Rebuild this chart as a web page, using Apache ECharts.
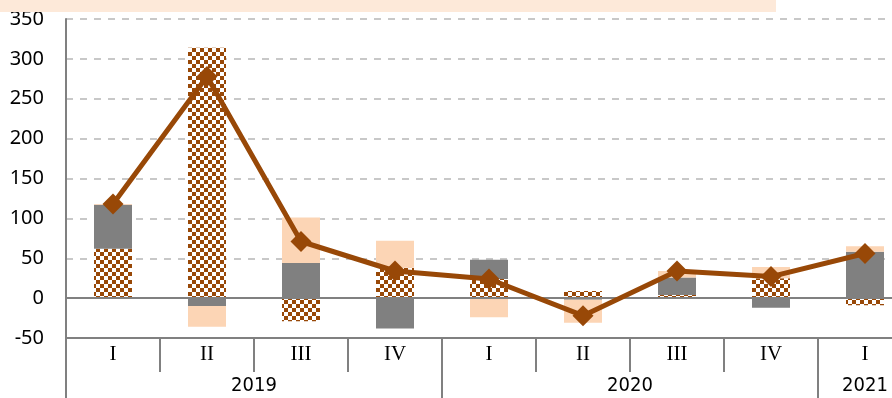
<!DOCTYPE html>
<html>
<head>
<meta charset="utf-8">
<script src="https://cdn.jsdelivr.net/npm/echarts@6/dist/echarts.min.js"></script>
<style>
html, body { margin: 0; padding: 0; background: #ffffff; }
#chart { width: 892px; height: 398px; }
</style>
</head>
<body>
<div id="chart"></div>
<script>
// Quarterly categories and the year groups they fall into
const quarters = ['I', 'II', 'III', 'IV', 'I', 'II', 'III', 'IV', 'I'];
const years = ['2019', '2020', '2021'];
const yearStarts = [0, 4, 8];        // category index where each year begins
const yearCentres = [2, 6, 8.5];     // middle of each year's span

// Stacked components (checkered, grey, peach) and the total line
const checkered = [62, 314, -29, 38, 24, 9, 4, 25, -9];
const grey      = [55, -10, 44, -38, 24, -2, 22, -12, 58];
const peach     = [1, -26, 57, 34, -24, -29, 8, 14, 7];
const total     = [118, 278, 71, 34, 24, -22, 34, 27, 56];

// Value axis ticks
const yMin = -50, yMax = 350, yStep = 50;

const BROWN = '#984807';
const AXIS_GREY = '#808080';

// Brown/white checkerboard fill
function checkerPattern() {
  const c = document.createElement('canvas');
  c.width = 8; c.height = 8;
  const g = c.getContext('2d');
  g.fillStyle = '#ffffff';
  g.fillRect(0, 0, 8, 8);
  g.fillStyle = BROWN;
  g.fillRect(0, 0, 4, 4);
  g.fillRect(4, 4, 4, 4);
  return c;
}

const chart = echarts.init(document.getElementById('chart'), null, { renderer: 'canvas' });

const barCommon = {
  type: 'bar',
  stack: 'parts',
  barWidth: 38,
  silent: true,
  animation: false
};

chart.setOption({
  animation: false,
  backgroundColor: '#ffffff',
  grid: { left: 66, top: 19, width: 846, height: 319, containLabel: false, outerBoundsMode: 'none' },
  xAxis: [
    {
      type: 'category',
      data: quarters,
      position: 'bottom',
      boundaryGap: true,
      axisLine: { show: true, onZero: false, lineStyle: { color: AXIS_GREY, width: 2 } },
      axisTick: { show: true, interval: 0, length: 34, lineStyle: { color: AXIS_GREY, width: 2 } },
      axisLabel: {
        interval: 0, margin: 6, color: '#000000', fontSize: 21,
        fontFamily: "'Liberation Serif', 'DejaVu Serif', serif"
      },
      splitLine: { show: false }
    },
    {
      type: 'value',
      min: 0, max: quarters.length,
      position: 'bottom',
      axisLine: { show: false, onZero: false },
      axisTick: { show: true, customValues: yearStarts, length: 60, lineStyle: { color: AXIS_GREY, width: 2 } },
      axisLabel: {
        customValues: yearCentres, margin: 38, color: '#000000', fontSize: 20,
        fontFamily: "'Liberation Sans Narrow', 'DejaVu Sans Condensed', 'Noto Sans', sans-serif",
        formatter: v => years[yearCentres.indexOf(v)]
      },
      splitLine: { show: false }
    }
  ],
  yAxis: {
    type: 'value',
    min: yMin, max: yMax, interval: yStep,
    axisLine: { show: true, lineStyle: { color: AXIS_GREY, width: 2 } },
    axisTick: { show: false },
    axisLabel: { color: '#000000', fontSize: 20, margin: 22, fontFamily: "'Noto Sans', sans-serif" },
    splitLine: { show: true, lineStyle: { color: '#c8c8c8', width: 2, type: [7, 7] } }
  },
  series: [
    Object.assign({}, barCommon, {
      name: 'checkered',
      data: checkered,
      itemStyle: { color: { image: checkerPattern(), repeat: 'repeat' } },
      markLine: {
        silent: true, symbol: 'none', label: { show: false },
        lineStyle: { color: AXIS_GREY, width: 2, type: 'solid' },
        data: [{ yAxis: 0 }]
      }
    }),
    Object.assign({}, barCommon, {
      name: 'grey',
      data: grey,
      itemStyle: { color: '#808080' }
    }),
    Object.assign({}, barCommon, {
      name: 'peach',
      data: peach,
      itemStyle: { color: '#fcd5b5' }
    }),
    {
      name: 'total',
      type: 'line',
      data: total,
      z: 5,
      silent: true,
      symbol: 'diamond',
      symbolSize: 21,
      showAllSymbol: true,
      lineStyle: { color: BROWN, width: 5 },
      itemStyle: { color: BROWN },
      animation: false
    }
  ],
  graphic: [
    {
      type: 'rect',
      left: 0, top: 0, z: 100,
      shape: { width: 776, height: 12 },
      style: { fill: '#fde9d9' }
    }
  ]
});
</script>
</body>
</html>
